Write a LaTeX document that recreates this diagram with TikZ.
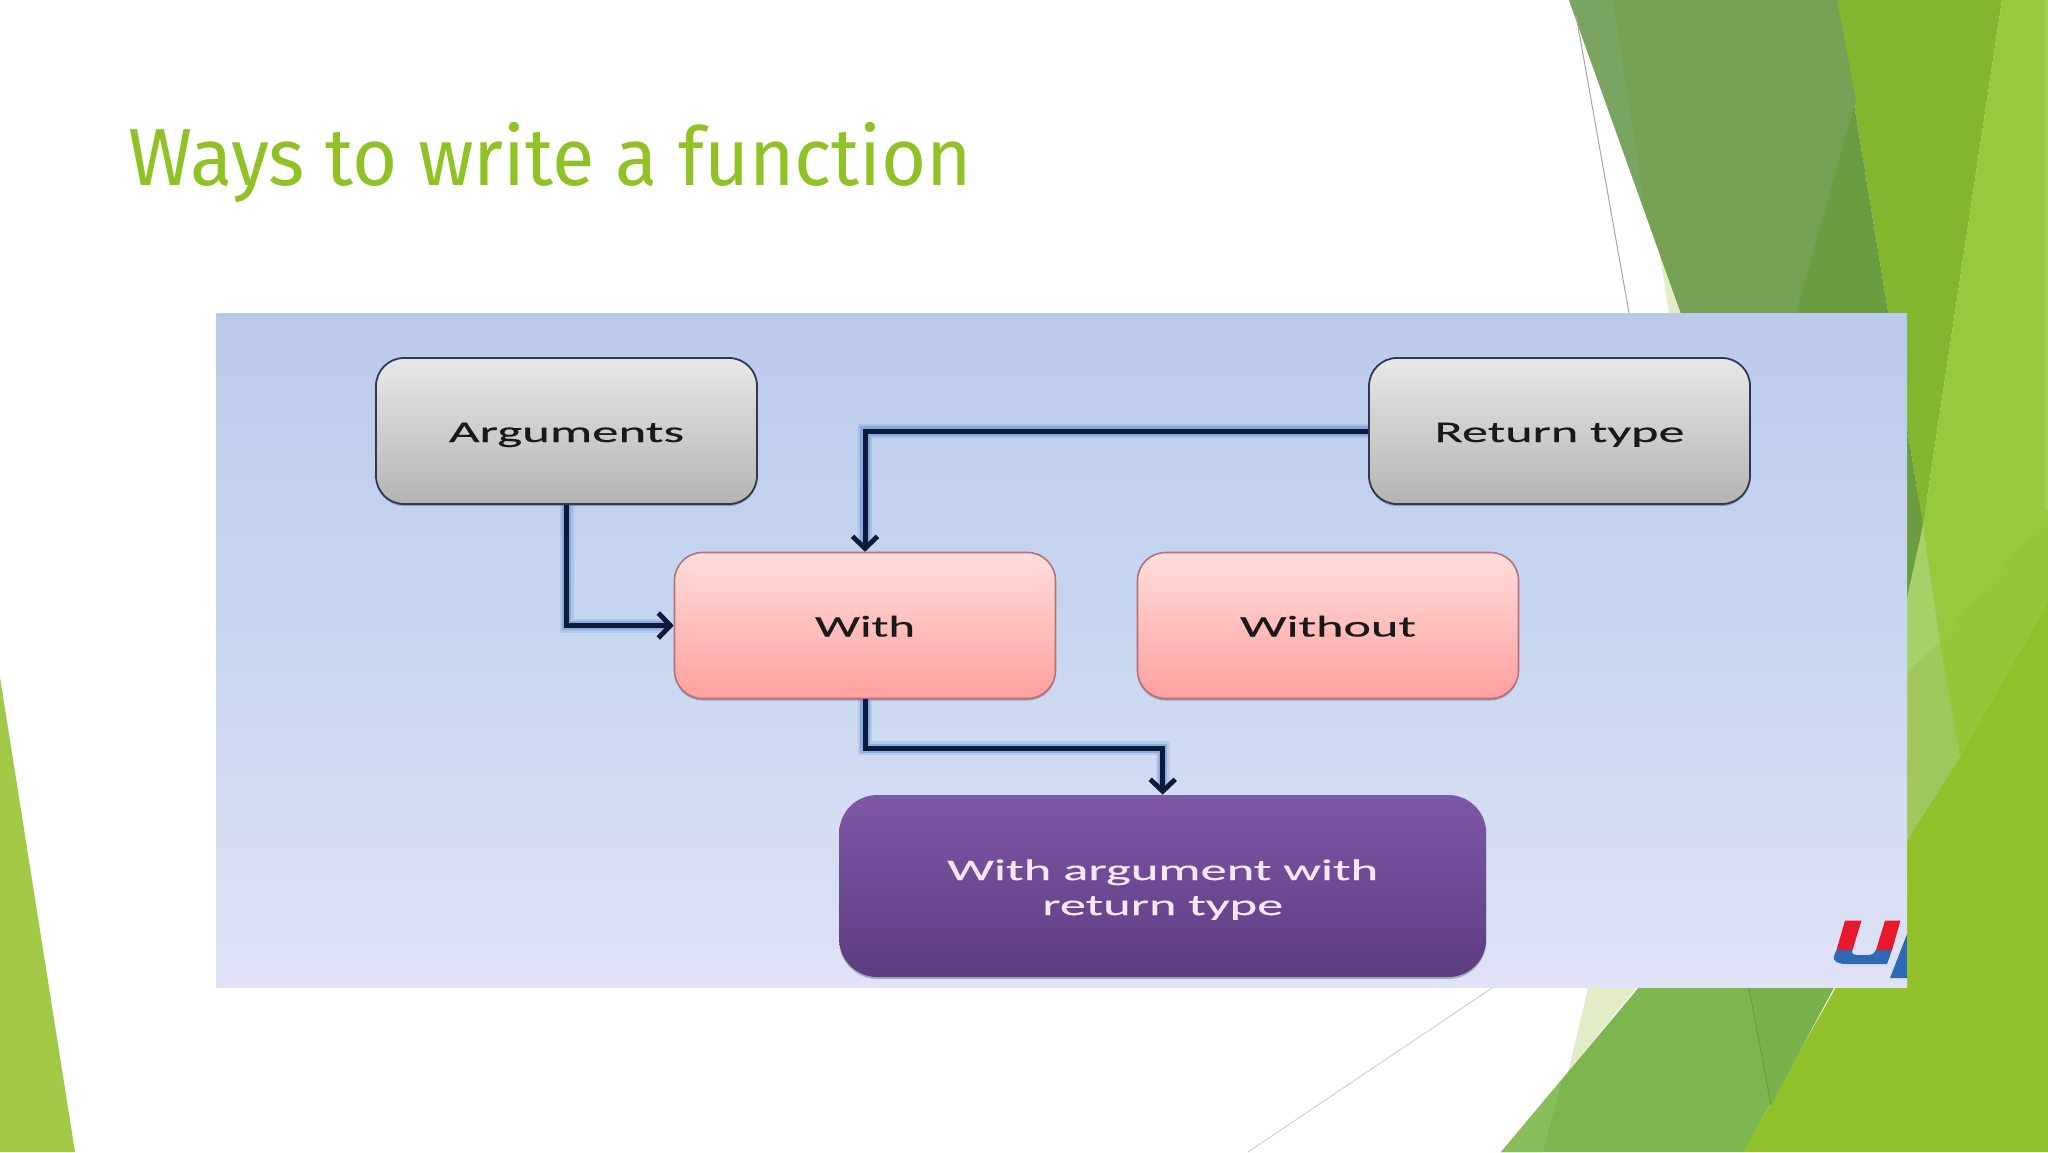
\documentclass[tikz,border=0pt]{standalone}
\usepackage{graphicx}
\usepackage{fontspec}
\usetikzlibrary{arrows.meta,shadows,calc}
\newfontfamily\titlefont{Fira Sans}
\newfontfamily\boxfont[FakeBold=0.25]{Carlito}
\newcommand{\fitw}[2]{\resizebox{#1pt}{\height}{#2}}
\definecolor{titlegreen}{HTML}{90C226}
\definecolor{gA}{HTML}{83B62E}
\definecolor{gB}{HTML}{6B9C42}
\definecolor{gC}{HTML}{76A054}
\definecolor{gD}{HTML}{7AA560}
\definecolor{gE}{HTML}{98C83E}
\definecolor{gF}{HTML}{96C53A}
\definecolor{gG}{HTML}{92C02B}
\definecolor{gH}{HTML}{A8D068}
\definecolor{gI}{HTML}{9FC75C}
\definecolor{gJ}{HTML}{7DB54F}
\definecolor{gK}{HTML}{88BD5C}
\definecolor{gL}{HTML}{E2EDC8}
\definecolor{gM}{HTML}{A2C945}
\definecolor{gN}{HTML}{79B24A}
\definecolor{navy}{HTML}{0E1A3C}
\definecolor{graytop}{HTML}{E8E8E8}
\definecolor{graymid}{HTML}{D6D6D4}
\definecolor{graybot}{HTML}{B4B4B2}
\definecolor{grayline}{HTML}{2F3A52}
\tikzset{
  graybox/.style={rectangle,rounded corners=14pt,minimum width=190.5pt,minimum height=73pt,inner sep=0pt,
    top color=graytop,middle color=graymid,bottom color=graybot,draw=grayline,line width=.9pt,
    drop shadow={shadow xshift=0pt,shadow yshift=-1pt,opacity=.25,fill=black},
    text=black!90,font=\boxfont\fontsize{15}{17}\selectfont,text height=15pt,text depth=4pt},
  pinkbox/.style={graybox,top color=pinktop,middle color=pinkmid,bottom color=pinkbot,draw=pinkline,line width=.8pt},
  purplebox/.style={rectangle,rounded corners=19pt,minimum width=323.5pt,minimum height=91pt,inner sep=0pt,
    top color=purptop,bottom color=purpbot,draw=none,
    drop shadow={shadow xshift=0pt,shadow yshift=-1pt,opacity=.25,fill=black},
    text=purptext,align=center,font=\boxfont\fontsize{15}{17.5}\selectfont},
  conn/.style={draw=navy,line width=2.5pt,
    preaction={draw=connglow,line width=7pt,opacity=.2},
    preaction={draw=connglow,line width=4.6pt,opacity=.4}},
  tip/.style={-{Straight Barb[length=6pt,width=12.5pt,line width=2.4pt]}},
  hair/.style={draw=#1,line width=.5pt}
}
\definecolor{pinktop}{HTML}{FFDEDA}
\definecolor{pinkmid}{HTML}{FFC2BE}
\definecolor{pinkbot}{HTML}{FFA09E}
\definecolor{pinkline}{HTML}{B5707C}
\definecolor{purptop}{HTML}{7E58A8}
\definecolor{purpbot}{HTML}{5C3D80}
\definecolor{purptext}{HTML}{F2E8F6}
\definecolor{connglow}{HTML}{4F86CE}
\definecolor{pantop}{HTML}{BBCAEB}
\definecolor{panmid}{HTML}{C8D7F0}
\definecolor{panbot}{HTML}{E0E2F6}
\definecolor{logored}{HTML}{E8192C}
\definecolor{logoblue}{HTML}{2E6AB4}
\begin{document}
\begin{tikzpicture}[x=0.5pt,y=-0.5pt]
\useasboundingbox (0,0) rectangle (2048,1152);
\fill[white] (0,0) rectangle (2048,1152);
% left triangle
\fill[gM] (0,677) -- (75,1152) -- (0,1152) -- cycle;
% pale stripes
\fill[gL] (1660,255) -- (1670,320) -- (1695,320) -- cycle;
\fill[gL] (1590,980) -- (1642,980) -- (1568,1072) -- cycle;
% right base
\fill[gG] (1900,500) -- (2048,500) -- (2048,1152) -- (1743,1152) -- (1840,980) -- cycle;
\fill[gA] (1837,0) -- (2002,0) -- (1923,525) -- cycle;
\fill[gB] (1569,0) -- (1837,0) -- (1923,525) -- (1900,640) -- (1700,367) -- cycle;
\fill[gC] (1613,0) -- (1837,0) -- (1856,100) -- (1794,320) -- (1683.5,320) -- (1646,215) -- cycle;
\fill[gD] (1569,0) -- (1613,0) -- (1646,215) -- cycle;
\fill[gE] (2002,0) -- (2048,0) -- (2048,516) -- (1940,642) -- (1923,525) -- cycle;
\fill[gF] (2048,516) -- (2048,603) -- (1960,757) -- (1940,642) -- cycle;
\fill[gH] (1923,525) -- (1940,642) -- (1900,680) -- (1900,630) -- cycle;
\fill[gI] (1900,680) -- (1940,642) -- (1960,757) -- (1900,852) -- cycle;
\fill[gE!90!white] (2045,0) rectangle (2048,510);
% bottom medium green
\fill[gJ] (1645,980) -- (1501,1152) -- (1743.5,1152) -- (1838,980) -- cycle;
\fill[gK] (1562,1080) -- (1501,1152) -- (1543,1152) -- cycle;
\fill[gN] (1749,980) -- (1838,980) -- (1771,1105) -- cycle;
\draw[hair=gB] (1749,988) -- (1771,1105);
% hairlines
\draw[hair=black!35] (1576,15) -- (1629,313);
\draw[hair=black!18] (1492,988) -- (1248,1152);
% title
\node[anchor=base west,inner sep=0pt,text=titlegreen,font=\titlefont\fontsize{40.5}{45}\selectfont] (title) at (128,185)
  {\fitw{422}{Ways to write a function}};
% panel
\shade[top color=pantop,bottom color=panbot,middle color=panmid] (216.5,313) rectangle (1907,987);
% logo
\begin{scope}
\clip (1780,900) rectangle (1907,987);
\fill[logored] (1845,920.5) -- (1861.5,920.5) -- (1852.5,950) -- (1836.5,950) -- cycle;
\fill[logored] (1885,920.5) -- (1900.5,920.5) -- (1892,950) -- (1876,950) -- cycle;
\fill[logoblue] (1836.5,950) -- (1852.5,950) .. controls (1851,953) and (1853,955) .. (1858,955) -- (1868,955) .. controls (1872,955) and (1875,953) .. (1876,950) -- (1892,950) -- (1887,964) -- (1846,964) .. controls (1837,964) and (1832,960) .. (1834,956) -- cycle;
\fill[logoblue] (1907,934) -- (1890,978) -- (1907,978) -- cycle;
\end{scope}
% boxes
\node[graybox] (args) at (566.5,431) {\fitw{117.5}{Arguments}};
\node[graybox] (ret) at (1559.5,431) {\fitw{125}{Return type}};
\node[pinkbox] (with) at (865,625.5) {\fitw{50}{With}};
\node[pinkbox] (without) at (1328,625.5) {\fitw{88}{Without}};
\node[purplebox] (res) at (1162.7,886) {\rule{0pt}{14pt}\fitw{215.5}{With argument with}\\\fitw{120.5}{return type}};
% connectors
\draw[conn,tip] (args.south) |- (with.west);
\draw[conn,tip] (ret.west) -| (with.north);
\draw[conn,tip] (with.south) -- ++(0,49) -| (res.north);
\end{tikzpicture}
\end{document}
